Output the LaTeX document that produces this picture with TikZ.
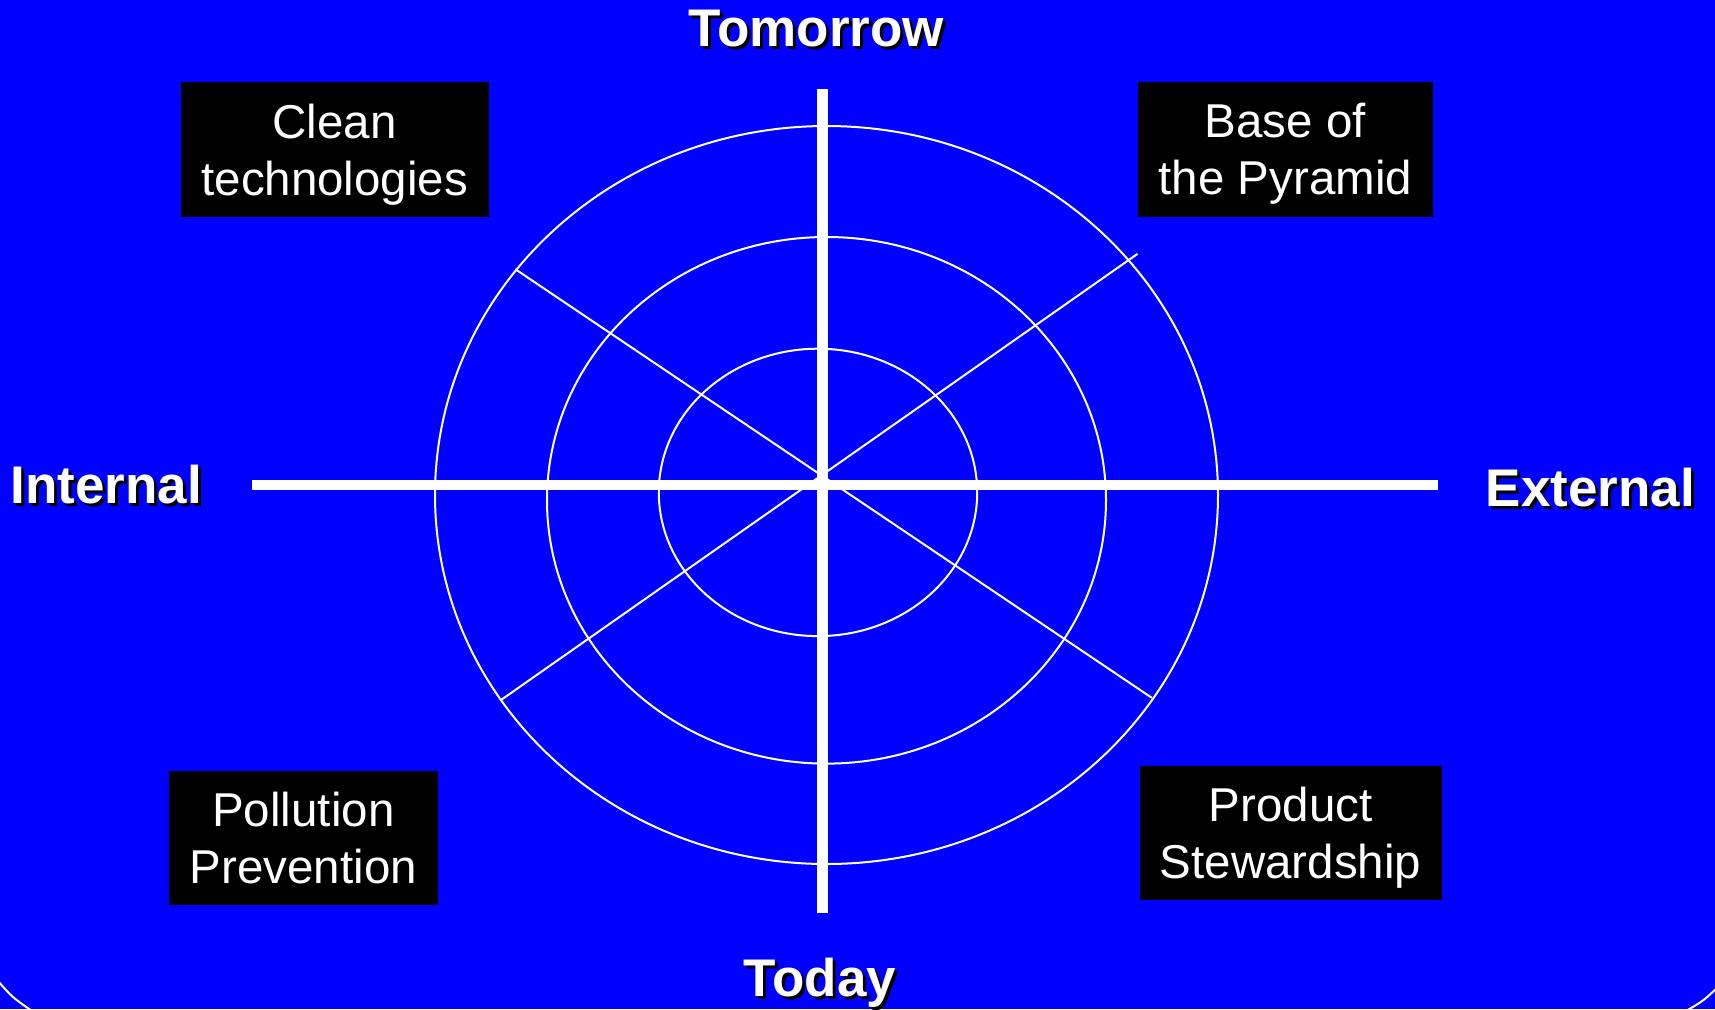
\documentclass[tikz,border=0pt]{standalone}
\usepackage{fontspec}
\setmainfont{Liberation Sans}
\begin{document}
\begin{tikzpicture}[x=0.5pt,y=-0.5pt,
    axis/.style={white,line width=5.25pt},
    ring/.style={white,line width=1pt},
    box/.style={fill=black,text=white,align=center,inner sep=0pt,text depth=0pt,
      font=\fontsize{23.75}{28.5}\selectfont},
    axislabel/.style={anchor=base,inner sep=0pt,
      font=\fontsize{26.5}{31}\selectfont\bfseries}]
  \useasboundingbox (0,0) rectangle (1715,1009) ;
  \fill [blue] (0,0) rectangle (1715,1009) ;
  \draw [ring] (-2,981) .. controls (12,997) .. (32,1011) ;
  \draw [ring] (1717,988) .. controls (1703,1001) .. (1686,1011) ;
  \foreach \cx/\cy/\rx/\ry in {826.5/495/391.5/369,826.5/500.3/279.5/263.3,818/492.4/159.2/143.7} {
    \draw [ring] (\cx,\cy) ellipse [x radius=\rx,y radius=\ry] ;
  }
  \coordinate (nw) at (515.2,269.1) ;
  \coordinate (se) at (1151.8,697.8) ;
  \coordinate (sw) at (501,700) ;
  \coordinate (ne) at (1137.6,253.8) ;
  \draw [ring] (nw) -- (se) ;
  \draw [ring] (sw) -- (ne) ;
  \coordinate (west) at (251.7,485) ;
  \coordinate (east) at (1438,485) ;
  \coordinate (north) at (822.8,89.3) ;
  \coordinate (south) at (822.8,913) ;
  \draw [axis] (west) -- (east) ;
  \draw [axis,line width=5.5pt] (north) -- (south) ;
  \node [box,minimum width=154.25pt,minimum height=67.3pt] (clean) at (334.75,149.3) {Clean\\technologies} ;
  \node [box,minimum width=147.7pt,minimum height=67.3pt] (base) at (1285.3,149.3) {Base of\\the Pyramid} ;
  \node [box,minimum width=134.1pt,minimum height=67pt] (pollution) at (303.4,837.5) {Pollution\\Prevention} ;
  \node [box,minimum width=151.1pt,minimum height=67pt] (product) at (1290.6,832.5) {Product\\Stewardship} ;
  \foreach \n/\x/\y/\t in {tomorrow/816.5/46.7/Tomorrow,internal/106.4/503.3/Internal,external/1590.5/506.7/External,today/820/996.7/Today} {
    \node [axislabel,black] (\n-shadow) at (\x+3,\y+3) {\t} ;
    \node [axislabel,white] (\n) at (\x,\y) {\t} ;
  }
\end{tikzpicture}
\end{document}
